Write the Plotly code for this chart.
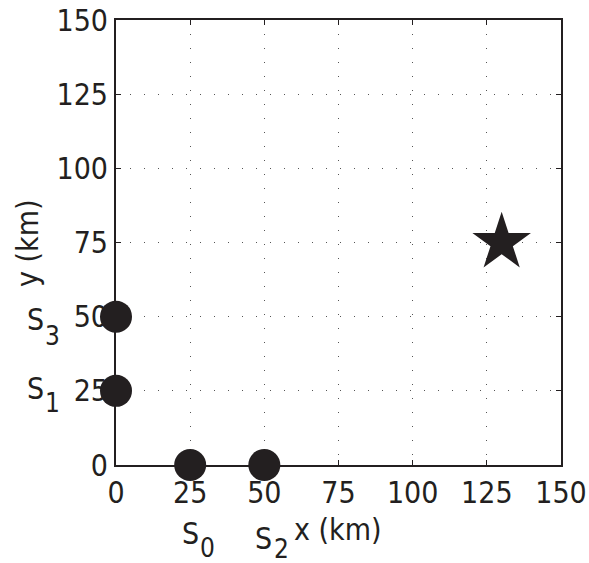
import plotly.graph_objects as go

station_x = [25, 0, 50, 0]
station_y = [0, 25, 0, 50]
station_ids = ["0", "1", "2", "3"]
target_x = [130]
target_y = [75]
ticks = [0, 25, 50, 75, 100, 125, 150]

ink = "#231f20"
font = "DejaVu Sans Condensed, DejaVu Sans, sans-serif"
FS = 30

W, H = 589, 563
L, T = 116, 20
PW = PH = 445
R, B = W - L - PW, H - T - PH


def px(xp):
    return (xp - L) / PW


def py(yp):
    return (T + PH - yp) / PH


fig = go.Figure()
fig.add_trace(go.Scatter(x=station_x, y=station_y, mode="markers",
                         marker=dict(symbol="circle", size=32, color=ink),
                         cliponaxis=False, showlegend=False))
fig.add_trace(go.Scatter(x=target_x, y=target_y, mode="markers",
                         marker=dict(symbol="star", size=44, color=ink),
                         cliponaxis=False, showlegend=False))

axis_common = dict(range=[0, 150], tickvals=ticks, ticktext=[str(t) for t in ticks],
                   showgrid=True, gridcolor="#555555", griddash="1px,13px", gridwidth=1,
                   showline=True, linecolor=ink, linewidth=2, mirror="ticks",
                   ticks="inside", ticklen=5, tickcolor=ink, zeroline=False,
                   automargin=False, ticklabeloverflow="allow",
                   tickfont=dict(family=font, size=FS, color=ink))
fig.update_xaxes(**axis_common)
fig.update_yaxes(**axis_common)


def label(x, y, text, size=FS, angle=0):
    fig.add_annotation(x=px(x), y=py(y), xref="paper", yref="paper", text=text,
                       showarrow=False, xanchor="center", yanchor="middle",
                       textangle=angle,
                       font=dict(family=font, size=size, color=ink))


# station labels: "S" with large dropped subscript, as in the reference
label_pos = {
    "0": ((190, 533), (207, 548)),
    "1": ((35, 388), (52, 403)),
    "2": ((263, 538), (281, 549)),
    "3": ((35, 319), (52, 336)),
}
for sid in station_ids:
    (sx, sy), (dx, dy) = label_pos[sid]
    label(sx, sy, "S")
    label(dx, dy, sid, size=26)

# axis titles
label(338, 529, "x (km)")
label(28, 243, "y (km)", angle=-90)

fig.update_layout(width=W, height=H, plot_bgcolor="white", paper_bgcolor="white",
                  margin=dict(l=L, r=R, t=T, b=B, autoexpand=False),
                  font=dict(family=font, color=ink))
fig.write_html("out.html", config={"displayModeBar": False},
               post_script="document.body.style.margin='0';document.body.style.overflow='hidden';")
